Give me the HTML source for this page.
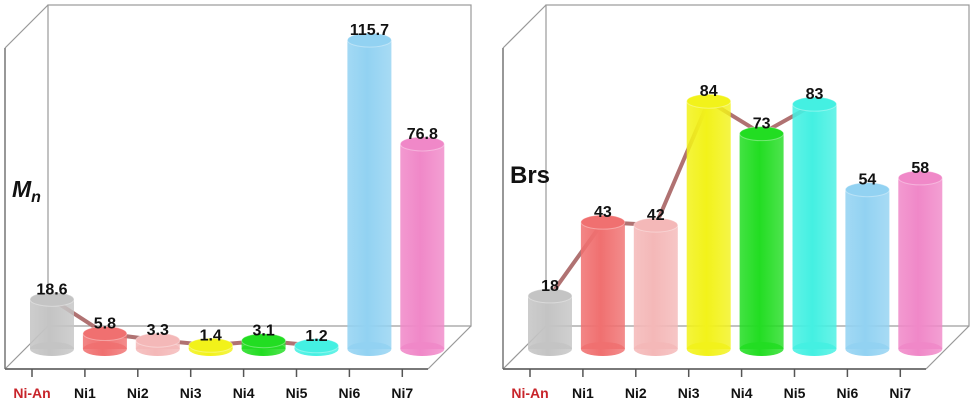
<!DOCTYPE html>
<html><head><meta charset="utf-8"><style>
html,body{margin:0;padding:0;background:#fff;}
svg{display:block;font-family:"Liberation Sans",Arial,sans-serif;}
</style></head><body>
<svg id="c" width="973" height="405" viewBox="0 0 973 405" xmlns="http://www.w3.org/2000/svg">
<defs></defs>
</svg>
<script>
const categories = ["Ni-An","Ni1","Ni2","Ni3","Ni4","Ni5","Ni6","Ni7"];
const mnValues = [18.6,5.8,3.3,1.4,3.1,1.2,115.7,76.8];
const mnLabels = ["18.6","5.8","3.3","1.4","3.1","1.2","115.7","76.8"];
const brsValues = [18,43,42,84,73,83,54,58];
const brsLabels = ["18","43","42","84","73","83","54","58"];
const barColors = ["#c4c4c4","#f07070","#f4b8b8","#f2f21a","#22dd22","#44f0e2","#92d2f2","#f088c8"];
const lineCount = 6;

const NS="http://www.w3.org/2000/svg";
const svg=document.getElementById('c');
const defs=svg.querySelector('defs');
function mk(tag,attrs,parent){const e=document.createElementNS(NS,tag);for(const k in attrs)e.setAttribute(k,attrs[k]);(parent||svg).appendChild(e);return e;}

barColors.forEach((c,i)=>{
  const g=mk('linearGradient',{id:'g'+i,x1:'0',x2:'1',y1:'0',y2:'0'},defs);
  mk('stop',{offset:'0','stop-color':c,'stop-opacity':'0.85'},g);
  mk('stop',{offset:'0.45','stop-color':c},g);
  mk('stop',{offset:'1','stop-color':c,'stop-opacity':'0.8'},g);
});

function drawChart(ox, values, labels, scale, title, italicTitle, name){
  const grp=mk('g',{});
  
  
  const d=43, frontL=ox+5, frontR=ox+428, floorY=369, topY=48;
  const st={stroke:'#999','stroke-width':'1.2',fill:'none'};
  const bw=mk('rect',Object.assign({x:frontL+d,y:topY-d,width:frontR-frontL,height:floorY-topY},st),grp);
  
  
  mk('line',Object.assign({x1:frontL,y1:topY,x2:frontL+d,y2:topY-d},st),grp);
  mk('line',Object.assign({x1:frontL,y1:floorY,x2:frontL+d,y2:floorY-d},st),grp);
  mk('line',Object.assign({x1:frontR,y1:floorY,x2:frontR+d,y2:floorY-d},st),grp);
  const la=mk('line',{x1:frontL,y1:topY,x2:frontL,y2:floorY,stroke:'#777','stroke-width':'1.5'},grp);
  
  
  const xa=mk('line',{x1:frontL,y1:floorY,x2:frontR,y2:floorY,stroke:'#666','stroke-width':'1.8'},grp);
  
  
  const tickX=i=>ox+32+i*52.9;
  const baseY=349;
  const barX=i=>tickX(i)+20;
  const yOf=v=>baseY-v*scale;
  categories.forEach((c,i)=>{
    mk('line',{x1:tickX(i),y1:floorY,x2:tickX(i),y2:floorY+8,stroke:'#555','stroke-width':'1.5'},grp);
    const t=mk('text',{x:tickX(i),y:398,'text-anchor':'middle','font-size':'14','font-weight':'bold',fill:i==0?'#c8242a':'#111'},grp);
    t.textContent=c;
    
    
  });
  let pts=[];
  for(let i=0;i<lineCount;i++)pts.push(barX(i)+','+yOf(values[i]));
  const pl=mk('polyline',{points:pts.join(' '),fill:'none',stroke:'#b07272','stroke-width':'4','stroke-linejoin':'round'},grp);
  
  
  const w=44, ry=7;
  values.forEach((v,i)=>{
    const cx=barX(i), top=yOf(v);
    const b=mk('g',{},grp);
    
    
    mk('ellipse',{cx:cx,cy:baseY,rx:w/2,ry:ry,fill:'url(#g'+i+')'},b);
    mk('rect',{x:cx-w/2,y:top,width:w,height:baseY-top,fill:'url(#g'+i+')'},b);
    mk('ellipse',{cx:cx,cy:top,rx:w/2,ry:ry,fill:barColors[i],stroke:'rgba(255,255,255,0.35)','stroke-width':'1'},b);
    const t=mk('text',{x:cx,y:top-5,'text-anchor':'middle','font-size':'16','font-weight':'bold',fill:'#111'},grp);
    t.textContent=labels[i];
    
    
  });
  const tt=mk('text',{x:ox+12,y:italicTitle?197:183,'font-size':italicTitle?'23':'24','font-weight':'bold',fill:'#111','font-style':italicTitle?'italic':'normal'},grp);
  
  
  if(italicTitle){
    tt.textContent='M';
    const s=mk('tspan',{'font-size':'16',dy:'5'},tt);s.textContent='n';
  } else tt.textContent=title;
}
drawChart(0,mnValues,mnLabels,2.67,'Mn',true,'mn-chart');
drawChart(498,brsValues,brsLabels,2.95,'Brs',false,'brs-chart');
</script>
</body></html>
